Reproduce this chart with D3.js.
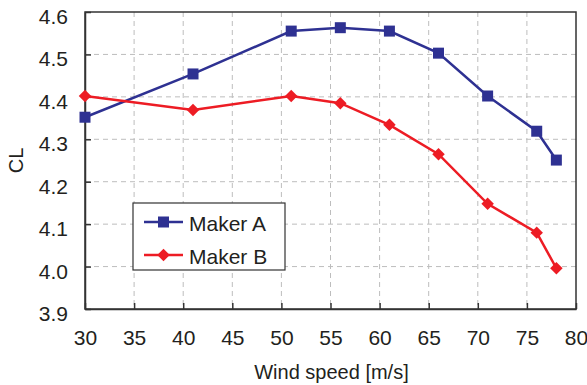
<!DOCTYPE html>
<html>
<head>
<meta charset="UTF-8">
<title>CL vs wind speed</title>
<style>
    body { margin: 0; background: #fff; }
    svg text { font-family: "Liberation Sans", Arial, sans-serif; fill: #231f20; }
    .grid line { stroke: #bdbdbd; stroke-width: 1; stroke-dasharray: 5,4; }
    .axis path, .axis line { stroke: #333; stroke-width: 1.5; }
    .axis text { font-size: 21px; }
</style>
</head>
<body>
<script src="https://d3js.org/d3.v7.min.js"></script>
<script>
    var windSpeed = [30, 41, 51, 56, 61, 66, 71, 76, 78];
    var makerA = [4.352, 4.454, 4.555, 4.563, 4.555, 4.503, 4.402, 4.319, 4.251];
    var makerB = [4.402, 4.369, 4.402, 4.385, 4.334, 4.265, 4.148, 4.080, 3.996];
    var xTicks = [30, 35, 40, 45, 50, 55, 60, 65, 70, 75, 80];
    var yTicks = [3.9, 4.0, 4.1, 4.2, 4.3, 4.4, 4.5, 4.6];
    var seriesNames = ["Maker A", "Maker B"];

    var fullWidth = 587, fullHeight = 385;
    var margin = {top: 12, right: 11, bottom: 76, left: 85},
        width = fullWidth - margin.left - margin.right,
        height = fullHeight - margin.top - margin.bottom;

    var x = d3.scaleLinear().domain([30, 80]).range([0, width]);
    var y = d3.scaleLinear().domain([3.9, 4.6]).range([height, 0]);

    var svg = d3.select("body").append("svg")
        .attr("width", fullWidth)
        .attr("height", fullHeight)
        .append("g")
        .attr("transform", "translate(" + margin.left + "," + margin.top + ")");

    // dashed grid
    var grid = svg.append("g").attr("class", "grid");
    grid.selectAll("line.v").data(xTicks.slice(1, -1)).enter().append("line")
        .attr("x1", function (d) { return x(d); })
        .attr("x2", function (d) { return x(d); })
        .attr("y1", 0).attr("y2", height);
    grid.selectAll("line.h").data(yTicks.slice(1, -1)).enter().append("line")
        .attr("y1", function (d) { return y(d); })
        .attr("y2", function (d) { return y(d); })
        .attr("x1", 0).attr("x2", width);

    // frame
    svg.append("rect")
        .attr("width", width).attr("height", height)
        .attr("fill", "none").attr("stroke", "#333").attr("stroke-width", 1.5);

    var xAxis = d3.axisBottom(x).tickValues(xTicks).tickSizeInner(-6).tickSizeOuter(0).tickPadding(21);
    var yAxis = d3.axisLeft(y).tickValues(yTicks).tickSizeInner(-6).tickSizeOuter(0).tickPadding(17)
        .tickFormat(d3.format(".1f"));

    svg.append("g").attr("class", "x axis")
        .attr("transform", "translate(0," + height + ")")
        .call(xAxis);
    svg.append("g").attr("class", "y axis").call(yAxis)
        .selectAll("text").attr("dy", "0.55em");

    svg.append("text")
        .attr("x", 331.5 - margin.left).attr("y", 379 - margin.top)
        .attr("text-anchor", "middle").style("font-size", "20px")
        .text("Wind speed [m/s]");

    svg.append("text")
        .attr("transform", "translate(" + (23 - margin.left) + "," + (height / 2) + ") rotate(-90)")
        .attr("text-anchor", "middle").style("font-size", "20px")
        .text("CL");

    var colors = ["#2e3192", "#ed1c24"];
    var data = [makerA, makerB];

    var line = d3.line()
        .x(function (d, i) { return x(windSpeed[i]); })
        .y(function (d) { return y(d); });

    var symA = d3.symbol().type(d3.symbolSquare).size(121);
    var symB = d3.symbol().type(d3.symbolSquare).size(78);
    var syms = [symA, symB];
    var rot = ["", " rotate(45)"];

    data.forEach(function (series, k) {
        var g = svg.append("g");
        g.append("path")
            .datum(series)
            .attr("fill", "none")
            .attr("stroke", colors[k])
            .attr("stroke-width", 2.5)
            .attr("d", line);
        g.selectAll("path.pt").data(series).enter().append("path")
            .attr("class", "pt")
            .attr("transform", function (d, i) { return "translate(" + x(windSpeed[i]) + "," + y(d) + ")" + rot[k]; })
            .attr("fill", colors[k])
            .attr("d", syms[k]());
    });

    // legend
    var legend = svg.append("g").attr("transform", "translate(" + (133 - margin.left) + "," + (203 - margin.top) + ")");
    legend.append("rect")
        .attr("width", 152).attr("height", 67)
        .attr("fill", "#fff").attr("stroke", "#333").attr("stroke-width", 1.2);
    seriesNames.forEach(function (name, k) {
        var ly = 19 + k * 33;
        legend.append("line")
            .attr("x1", 11).attr("x2", 50).attr("y1", ly).attr("y2", ly)
            .attr("stroke", colors[k]).attr("stroke-width", 2.5);
        legend.append("path")
            .attr("transform", "translate(30.5," + ly + ")" + rot[k])
            .attr("fill", colors[k])
            .attr("d", syms[k]());
        legend.append("text")
            .attr("x", 56).attr("y", ly + 9)
            .style("font-size", "21px")
            .text(name);
    });
</script>
</body>
</html>
